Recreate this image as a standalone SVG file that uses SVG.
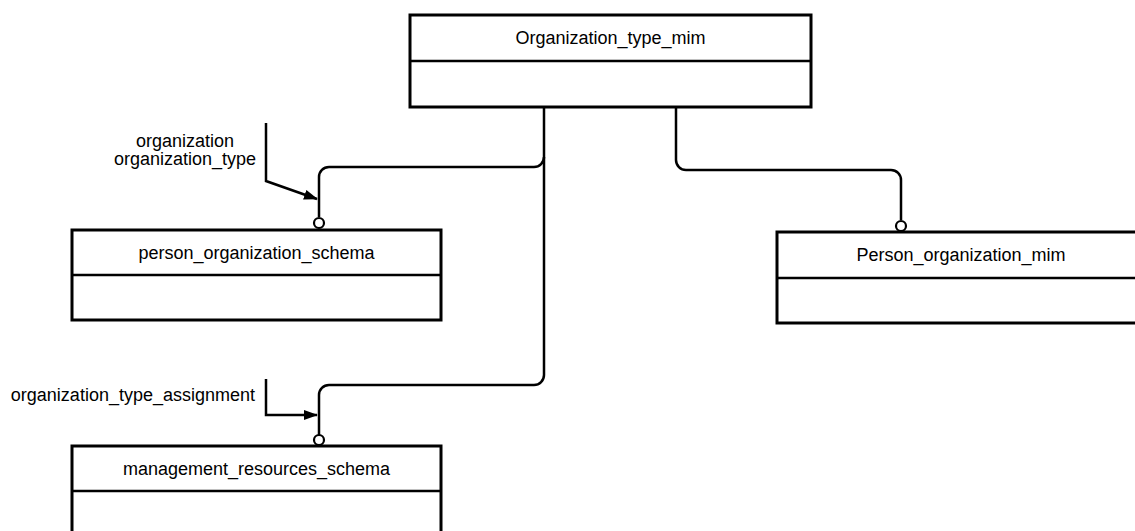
<svg xmlns="http://www.w3.org/2000/svg" width="1135" height="531" viewBox="0 0 1135 531">
<style>
.box{fill:#fff;stroke:#000;stroke-width:3}
.div{stroke:#000;stroke-width:2.5}
.t{font-family:"Liberation Sans",Arial,sans-serif;font-size:18px;fill:#000}
.c{text-anchor:middle}
.ln{fill:none;stroke:#000;stroke-width:2.5}
.o{fill:#fff;stroke:#000;stroke-width:2.2}
</style>
<defs>
<marker id="ah" markerWidth="14" markerHeight="10" refX="13" refY="5" orient="auto" markerUnits="userSpaceOnUse">
<path d="M0,0 L14,5 L0,10 Z" fill="#000"/>
</marker>
</defs>
<rect width="1135" height="531" fill="#fff"/>
<g id="connectors">
<path class="ln" d="M544,107 V375 A10,10 0 0 1 534,385 H329 A10,10 0 0 0 319,395 V435"/>
<path class="ln" d="M544,157 A10,10 0 0 1 534,167 H329 A10,10 0 0 0 319,177 V217"/>
<path class="ln" d="M676,107 V160 A10,10 0 0 0 686,170 H891 A10,10 0 0 1 901,180 V220"/>
<circle class="o" cx="319" cy="223" r="5"/>
<circle class="o" cx="319" cy="440" r="5"/>
<circle class="o" cx="901" cy="226" r="5"/>
<path class="ln" d="M266,123 V181 L317,199" marker-end="url(#ah)"/>
<path class="ln" d="M266,379 V415 H317" marker-end="url(#ah)"/>
</g>
<g id="Organization_type_mim">
<rect class="box" x="410" y="15" width="401" height="92"/>
<line class="div" x1="410" y1="61" x2="811" y2="61"/>
<text class="t c" x="610.5" y="44">Organization_type_mim</text>
</g>
<g id="person_organization_schema">
<rect class="box" x="72" y="230" width="369" height="90"/>
<line class="div" x1="72" y1="275" x2="441" y2="275"/>
<text class="t c" x="256.5" y="259">person_organization_schema</text>
</g>
<g id="management_resources_schema">
<rect class="box" x="72" y="446" width="369" height="100"/>
<line class="div" x1="72" y1="491" x2="441" y2="491"/>
<text class="t c" x="256.5" y="475">management_resources_schema</text>
</g>
<g id="Person_organization_mim">
<rect class="box" x="777" y="232" width="370" height="91"/>
<line class="div" x1="777" y1="278" x2="1147" y2="278"/>
<text class="t c" x="961" y="261">Person_organization_mim</text>
</g>
<g id="labels">
<text class="t c" x="185" y="147">organization</text>
<text class="t c" x="185" y="165">organization_type</text>
<text class="t" x="255" y="401" text-anchor="end">organization_type_assignment</text>
</g>
</svg>
